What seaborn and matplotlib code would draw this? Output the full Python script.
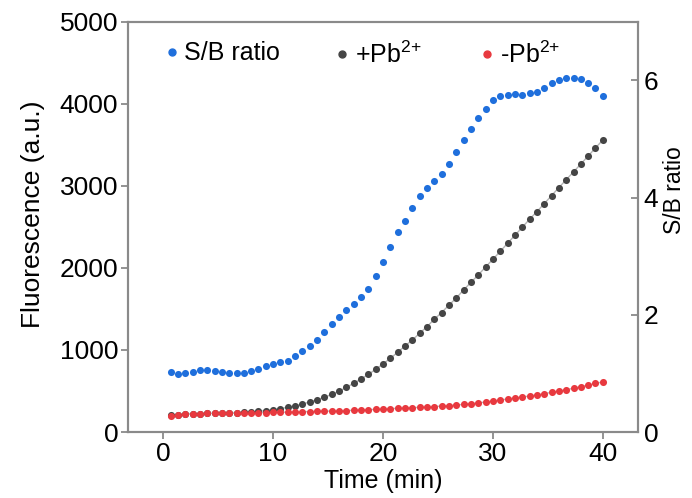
import matplotlib
matplotlib.use("Agg")
import matplotlib.pyplot as plt
from matplotlib.lines import Line2D
import seaborn as sns
import pandas as pd

# sampling times (min), every 40 s
time_min = [0.67, 1.33, 2.0, 2.67, 3.33, 4.0, 4.67, 5.33, 6.0, 6.67,
            7.33, 8.0, 8.67, 9.33, 10.0, 10.67, 11.33, 12.0, 12.67, 13.33,
            14.0, 14.67, 15.33, 16.0, 16.67, 17.33, 18.0, 18.67, 19.33, 20.0,
            20.67, 21.33, 22.0, 22.67, 23.33, 24.0, 24.67, 25.33, 26.0, 26.67,
            27.33, 28.0, 28.67, 29.33, 30.0, 30.67, 31.33, 32.0, 32.67, 33.33,
            34.0, 34.67, 35.33, 36.0, 36.67, 37.33, 38.0, 38.67, 39.33, 40.0]

# fluorescence with Pb2+
plus_pb = [205, 213, 219, 222, 224, 226, 228, 230, 232, 235,
           238, 242, 252, 260, 272, 285, 301, 317, 341, 366,
           394, 423, 459, 496, 545, 594, 646, 703, 764, 829,
           900, 971, 1049, 1122, 1203, 1285, 1375, 1457, 1547, 1634,
           1732, 1825, 1915, 2012, 2106, 2203, 2301, 2398, 2496, 2594,
           2687, 2784, 2882, 2980, 3077, 3171, 3268, 3366, 3463, 3561]

# fluorescence without Pb2+
minus_pb = [199, 211, 218, 222, 224, 226, 227, 228, 229, 230,
            232, 233, 235, 237, 239, 241, 243, 245, 247, 249,
            251, 254, 256, 259, 262, 265, 269, 272, 276, 280,
            285, 289, 293, 297, 301, 305, 309, 317, 321, 329,
            337, 346, 354, 366, 378, 390, 402, 415, 427, 439,
            451, 467, 484, 500, 516, 533, 553, 569, 594, 610]

# signal / background ratio
sb_ratio = [1.03, 0.99, 1.00, 1.03, 1.06, 1.06, 1.04, 1.03, 1.00, 1.00,
            1.01, 1.04, 1.08, 1.13, 1.16, 1.19, 1.22, 1.29, 1.39, 1.47,
            1.57, 1.71, 1.85, 1.96, 2.08, 2.19, 2.31, 2.44, 2.66, 2.91,
            3.15, 3.41, 3.61, 3.83, 4.02, 4.16, 4.29, 4.41, 4.57, 4.78,
            4.99, 5.18, 5.36, 5.52, 5.66, 5.74, 5.76, 5.77, 5.75, 5.78,
            5.80, 5.88, 5.95, 6.00, 6.04, 6.05, 6.03, 5.96, 5.87, 5.74]

legend_labels = ["S/B ratio", "+Pb$^{\\mathregular{2{+}}}$", "-Pb$^{\\mathregular{2{+}}}$"]

blue = "#1f6fdc"
dark = "#454545"
red = "#e8393f"
spine_gray = "#8a8a8a"

sns.set_style("ticks")
plt.rcParams['font.family'] = ['Liberation Sans', 'DejaVu Sans']
plt.rcParams['mathtext.fontset'] = 'custom'
plt.rcParams['mathtext.rm'] = 'Liberation Sans'
plt.rcParams['text.color'] = 'black'
plt.rcParams['axes.labelcolor'] = 'black'
plt.rcParams['xtick.labelcolor'] = 'black'
plt.rcParams['ytick.labelcolor'] = 'black'

df = pd.DataFrame({"time": time_min, "plus": plus_pb, "minus": minus_pb, "sb": sb_ratio})

fig = plt.figure(figsize=(6.92, 4.98), dpi=100)
ax = fig.add_axes([0.185, 0.1325, 0.737, 0.8235])
ax2 = ax.twinx()

# connecting lines behind the dots
sns.lineplot(data=df, x="time", y="plus", ax=ax, color="#b5b5b5", linewidth=1.0, zorder=1)
sns.lineplot(data=df, x="time", y="minus", ax=ax, color="#b5b5b5", linewidth=1.0, zorder=1)
sns.scatterplot(data=df, x="time", y="plus", ax=ax, color=dark, s=26, linewidth=0, zorder=2)
sns.scatterplot(data=df, x="time", y="minus", ax=ax, color=red, s=26, linewidth=0, zorder=3)
sns.scatterplot(data=df, x="time", y="sb", ax=ax2, color=blue, s=26, linewidth=0, zorder=3)

ax.set_xlim(-3.2, 43.2)
ax.set_ylim(0, 5000)
ax2.set_ylim(0, 7)
ax.set_xticks([0, 10, 20, 30, 40])
ax.set_yticks([0, 1000, 2000, 3000, 4000, 5000])
ax2.set_yticks([0, 2, 4, 6])

ax.set_xlabel("Time (min)", fontsize=18, labelpad=2)
ax.set_ylabel("Fluorescence (a.u.)", fontsize=19)
ax2.set_ylabel("S/B ratio", fontsize=16.5)
ax.yaxis.set_label_coords(-0.163, 0.53)
ax2.yaxis.set_label_coords(1.049, 0.59)

for a in (ax, ax2):
    for sp in a.spines.values():
        sp.set_color(spine_gray)
        sp.set_linewidth(1.5)
    a.tick_params(axis="both", labelsize=19, color=spine_gray, width=1.3, length=5, pad=2)
# right axis ticks point inward
ax2.tick_params(axis="y", direction="in", pad=4)

# legend entries are spaced unevenly in the original, so one legend per entry
legend_x = [0.032, 0.366, 0.65]
for i, (col, lab, lx) in enumerate(zip((blue, dark, red), legend_labels, legend_x)):
    h = Line2D([], [], marker="o", linestyle="none", color=col, markersize=5)
    leg = ax2.legend([h], [lab], loc="upper left", bbox_to_anchor=(lx, 0.995),
                     frameon=False, fontsize=18, handletextpad=0.1,
                     handlelength=0.8, borderaxespad=0.3)
    if i < 2:
        ax2.add_artist(leg)

fig.savefig("out.png", dpi=100)
